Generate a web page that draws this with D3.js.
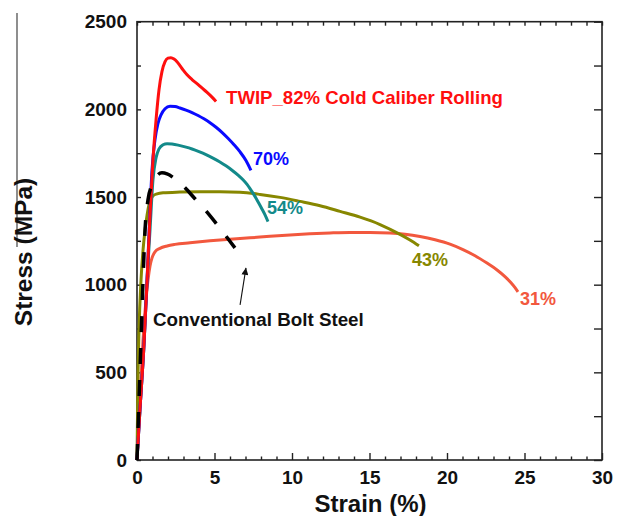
<!DOCTYPE html>
<html>
<head>
<meta charset="utf-8">
<script src="https://cdn.jsdelivr.net/npm/d3@7"></script>
<style>
	body { margin: 0; background: #fff; }
	svg text { font-family: "Liberation Sans", Arial, sans-serif; font-weight: bold; }
</style>
</head>
<body>
<div id="chart"></div>
<script>

// strain (%) , stress (MPa)
const twip82 = [[0,0],[0.19,285],[0.45,656],[0.65,1027],[0.84,1398],[1.03,1712],[1.23,1941],[1.42,2112],[1.61,2215],[1.81,2272],[2.0,2292],[2.19,2295],[2.39,2287],[2.58,2272],[2.77,2250],[2.97,2225],[3.23,2197],[3.55,2170],[3.87,2147],[4.19,2122],[4.52,2097],[4.84,2070],[5.1,2045]]
const twip70 = [[0,0],[0.19,285],[0.45,656],[0.65,1027],[0.84,1427],[0.97,1655],[1.16,1826],[1.35,1918],[1.55,1969],[1.81,2003],[2.13,2018],[2.45,2016],[2.77,2008],[3.16,1996],[3.55,1982],[3.94,1965],[4.32,1946],[4.71,1924],[5.1,1898],[5.48,1869],[5.87,1835],[6.26,1798],[6.65,1757],[7.03,1708],[7.35,1652]]
const twip54 = [[0,0],[0.19,285],[0.45,656],[0.65,1027],[0.84,1313],[1.03,1598],[1.23,1724],[1.42,1775],[1.68,1798],[1.94,1804],[2.26,1802],[2.65,1796],[3.1,1786],[3.55,1774],[4.0,1759],[4.45,1742],[4.9,1722],[5.35,1700],[5.74,1678],[6.13,1653],[6.52,1625],[6.84,1598],[7.1,1572],[7.29,1548],[7.48,1522],[7.68,1493],[7.87,1463],[8.06,1432],[8.26,1398],[8.45,1360]]
const twip43 = [[0,0],[0.06,457],[0.13,742],[0.26,1027],[0.45,1256],[0.65,1398],[0.84,1478],[1.03,1507],[1.29,1518],[1.68,1524],[2.77,1528],[4.06,1530],[5.35,1530],[6.65,1527],[7.94,1515],[9.23,1498],[10.52,1475],[11.81,1450],[13.1,1418],[14.39,1385],[15.68,1343],[16.97,1287],[17.61,1255],[18.19,1222]]
const twip31 = [[0,0],[0.19,342],[0.39,685],[0.58,913],[0.71,1027],[0.84,1107],[0.97,1153],[1.16,1187],[1.48,1207],[1.94,1221],[2.45,1230],[3.42,1239],[4.71,1250],[6.0,1259],[7.29,1267],[8.58,1276],[9.87,1284],[11.16,1290],[12.45,1295],[13.74,1298],[15.03,1298],[16.32,1295],[17.29,1288],[18.26,1275],[19.23,1256],[20.19,1231],[21.03,1200],[21.81,1165],[22.58,1123],[23.23,1084],[23.74,1046],[24.13,1011],[24.39,983],[24.58,959]]
const boltSteel = [[0,0],[0.13,342],[0.26,685],[0.39,1027],[0.52,1313],[0.71,1484],[0.97,1570],[1.29,1621],[1.61,1638],[1.94,1632],[2.45,1604],[3.1,1553],[3.74,1490],[4.39,1427],[5.03,1358],[5.68,1284],[6.32,1210]]

const seriesNames = ["TWIP_82% Cold Caliber Rolling", "70%", "54%", "43%", "31%"]
const xTicks = [0, 5, 10, 15, 20, 25, 30]
const yTicks = [0, 500, 1000, 1500, 2000, 2500]
const arrowFrom = [6.65, 885]
const arrowTo = [7.03, 1096]

let margin = {top: 21.7, left: 137}
let width = 465
let height = 438.3

let svg = d3.select("#chart").append("svg")
	.attr("width", 624)
	.attr("height", 516)

// the odd rule left over at the top left of the scan
svg.append("line").attr("x1", 17).attr("x2", 17).attr("y1", 13).attr("y2", 247)
	.attr("stroke", "#444").attr("stroke-width", 1.2)

let g = svg.append("g").attr("transform", "translate(" + margin.left + "," + margin.top + ")")

let xScale = d3.scaleLinear().domain([0, 30]).range([0, width])
let yScale = d3.scaleLinear().domain([0, 2500]).range([height, 0])

//major and minor ticks, all pointing inwards
let xMinor = d3.range(0, 31).filter(v => v % 5 != 0)
let yMinor = d3.range(250, 2500, 500)

function styleAxis(sel){
	sel.select(".domain").remove()
	sel.selectAll("line").attr("stroke", "#222").attr("stroke-width", 1.4)
	sel.selectAll("text").attr("font-size", 19).attr("fill", "#111")
		.style("font-family", '"Liberation Sans", Arial, sans-serif').style("font-weight", "bold")
}

g.append("g").attr("transform", "translate(0," + height + ")")
	.call(d3.axisBottom(xScale).tickValues(xTicks).tickFormat(d3.format("d")).tickSizeInner(-7).tickSizeOuter(0).tickPadding(11))
	.call(styleAxis)
g.append("g").attr("transform", "translate(0," + height + ")")
	.call(d3.axisBottom(xScale).tickValues(xMinor).tickSizeInner(-3.5).tickSizeOuter(0).tickFormat(""))
	.call(styleAxis)
g.append("g")
	.call(d3.axisTop(xScale).tickValues(d3.range(0, 31)).tickSizeInner(-4).tickSizeOuter(0).tickFormat(""))
	.call(styleAxis)

g.append("g")
	.call(d3.axisLeft(yScale).tickValues(yTicks).tickFormat(d3.format("d")).tickSizeInner(-4).tickSizeOuter(0).tickPadding(10))
	.call(styleAxis)
g.append("g")
	.call(d3.axisLeft(yScale).tickValues(yMinor).tickSizeInner(-4).tickSizeOuter(0).tickFormat(""))
	.call(styleAxis)
g.append("g").attr("transform", "translate(" + width + ",0)")
	.call(d3.axisRight(yScale).tickValues(yTicks.concat(yMinor)).tickSizeInner(-8).tickSizeOuter(0).tickFormat(""))
	.call(styleAxis)

//frame
g.append("rect").attr("width", width).attr("height", height)
	.attr("fill", "none").attr("stroke", "#222").attr("stroke-width", 1.6)

let line = d3.line()
	.x(d => xScale(d[0]))
	.y(d => yScale(d[1]))
	.curve(d3.curveMonotoneX)

// drawn back to front, label offsets are from the last point of each curve
let curves = [
	{data: twip31, name: seriesNames[4], color: "#f2583e", dx: 2, dy: 13},
	{data: twip43, name: seriesNames[3], color: "#878700", dx: -7, dy: 20},
	{data: twip54, name: seriesNames[2], color: "#138a8a", dx: -1, dy: -8},
	{data: twip70, name: seriesNames[1], color: "#0a0aff", dx: 2, dy: -5},
	{data: twip82, name: seriesNames[0], color: "#ff0f0f", dx: 10, dy: 3}
]

g.append("g").selectAll("path").data(curves).enter().append("path")
	.attr("d", c => line(c.data))
	.attr("fill", "none")
	.attr("stroke", c => c.color)
	.attr("stroke-width", 3)
	.attr("stroke-linejoin", "round")

g.append("path").attr("d", line(boltSteel))
	.attr("fill", "none").attr("stroke", "#000").attr("stroke-width", 3.5)
	.attr("stroke-dasharray", "16,16")

g.append("g").selectAll("text").data(curves).enter().append("text")
	.attr("x", c => xScale(c.data[c.data.length - 1][0]) + c.dx)
	.attr("y", c => yScale(c.data[c.data.length - 1][1]) + c.dy)
	.attr("fill", c => c.color)
	.attr("font-size", c => c.name.length > 5 ? 18.6 : 18)
	.text(c => c.name)

//arrow pointing at the bolt steel curve
svg.append("defs").append("marker")
	.attr("id", "head").attr("viewBox", "0 0 10 10")
	.attr("refX", 10).attr("refY", 5)
	.attr("markerWidth", 9).attr("markerHeight", 7)
	.attr("markerUnits", "userSpaceOnUse")
	.attr("orient", "auto")
	.append("path").attr("d", "M0,0L10,5L0,10Z").attr("fill", "#111")

g.append("line")
	.attr("x1", xScale(arrowFrom[0])).attr("y1", yScale(arrowFrom[1]))
	.attr("x2", xScale(arrowTo[0])).attr("y2", yScale(arrowTo[1]))
	.attr("stroke", "#111").attr("stroke-width", 1.1)
	.attr("marker-end", "url(#head)")

g.append("text")
	.attr("x", 16).attr("y", 304.5)
	.attr("font-size", 18.8).attr("fill", "#111")
	.text("Conventional Bolt Steel")

//axis titles
svg.append("text")
	.attr("x", margin.left + width / 2 + 1).attr("y", 512)
	.attr("text-anchor", "middle").attr("font-size", 24).attr("fill", "#111")
	.text("Strain (%)")

svg.append("text")
	.attr("transform", "translate(32,252) rotate(-90)")
	.attr("text-anchor", "middle").attr("font-size", 24.5).attr("fill", "#111")
	.text("Stress (MPa)")

</script>
</body>
</html>
